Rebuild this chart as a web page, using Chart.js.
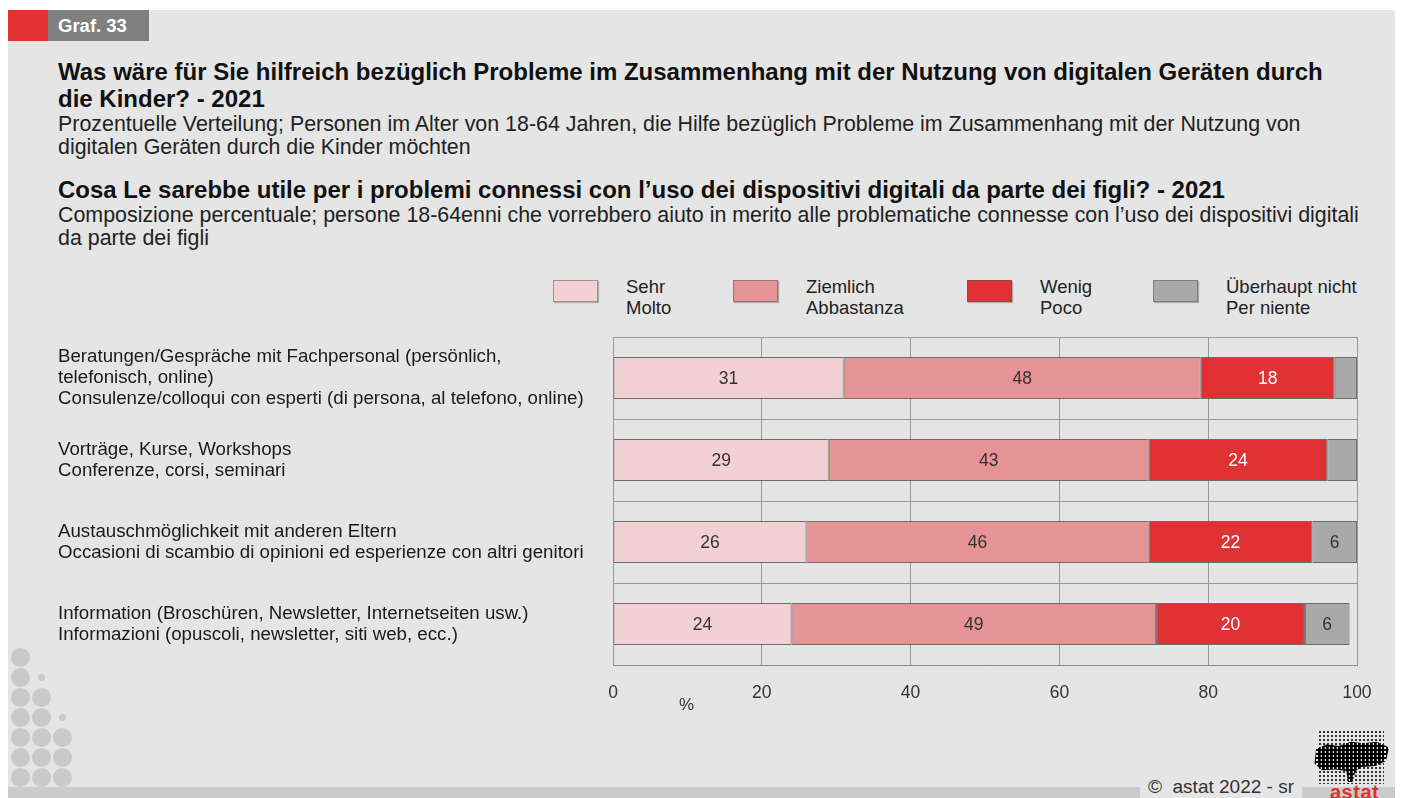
<!DOCTYPE html>
<html>
<head>
<meta charset="utf-8">
<script src="https://cdn.jsdelivr.net/npm/chart.js@4"></script>
<style>
  html, body { margin: 0; padding: 0; }
  body { width: 1402px; height: 798px; background: #fff; position: relative; overflow: hidden;
         font-family: "Liberation Sans", Arial, sans-serif; color: #1a1a1a; }
  #panel { position: absolute; left: 8px; top: 10px; width: 1387px; height: 788px; background: #e5e5e5; }
  #strip { position: absolute; left: 8px; top: 787px; width: 1387px; height: 11px; background: #cbcbcb; }
  #tagRed { position: absolute; left: 8px; top: 10px; width: 40px; height: 31px; background: #e03133; }
  #tag { position: absolute; left: 48px; top: 10px; width: 101px; height: 31px; background: #808080;
         color: #fff; font-weight: bold; font-size: 18.5px; line-height: 31px; padding-left: 10px; box-sizing: border-box; }
  .t { position: absolute; left: 58px; white-space: nowrap; }
  .h { font-weight: bold; font-size: 24px; line-height: 27px; color: #111; }
  .s { font-size: 21.4px; line-height: 23px; color: #222; }
  #legend { position: absolute; left: 553px; top: 279px; }
  .item { position: absolute; top: 0; display: flex; align-items: flex-start; }
  .box { width: 45px; height: 22px; margin-top: 1px; margin-right: 28px; box-sizing: border-box;
         border: 1px solid rgba(90,90,90,0.55); box-shadow: 1px 1px 1px rgba(0,0,0,0.25); }
  .lab { font-size: 18.5px; line-height: 21px; color: #222; white-space: nowrap; margin-top: -3px; }
  #chartBox { position: absolute; left: 0; top: 320px; width: 1402px; height: 400px; }
  #pct { position: absolute; left: 679px; top: 695px; font-size: 17px; color: #333; }
  .dot { position: absolute; border-radius: 50%; background: #c9c9c9; }
  #copy { position: absolute; left: 1140px; top: 775px; width: 162px; height: 23px; background: #e5e5e5;
          font-size: 19px; color: #333; text-align: center; line-height: 23px; }
  #logoDots { position: absolute; left: 1318px; top: 730px; width: 66px; height: 54px;
          background-image: radial-gradient(circle, #333 0.9px, transparent 1.3px); background-size: 4px 4px; }
  #logoMap { position: absolute; left: 1313px; top: 740px; width: 76px; height: 42px;
          background-image: radial-gradient(circle, #000 1.7px, transparent 2.1px); background-size: 4px 4px;
          clip-path: polygon(4% 22%, 18% 10%, 34% 14%, 50% 4%, 66% 8%, 84% 4%, 100% 18%, 96% 50%, 82% 62%,
                             64% 64%, 56% 74%, 52% 100%, 46% 100%, 44% 74%, 30% 70%, 12% 72%, 2% 56%); }
  #logoTxt { position: absolute; left: 1330px; top: 781px; font-weight: bold; font-size: 20px; color: #e03133; letter-spacing: 0.5px; }
</style>
</head>
<body>
<div id="panel"></div>
<div id="strip"></div>
<div id="tagRed"></div>
<div id="tag">Graf. 33</div>

<div class="t h" style="top:58px">Was wäre für Sie hilfreich bezüglich Probleme im Zusammenhang mit der Nutzung von digitalen Geräten durch</div>
<div class="t h" style="top:85px">die Kinder? - 2021</div>
<div class="t s" style="top:113px">Prozentuelle Verteilung; Personen im Alter von 18-64 Jahren, die Hilfe bezüglich Probleme im Zusammenhang mit der Nutzung von</div>
<div class="t s" style="top:136px">digitalen Geräten durch die Kinder möchten</div>
<div class="t h" style="top:176px">Cosa Le sarebbe utile per i problemi connessi con l’uso dei dispositivi digitali da parte dei figli? - 2021</div>
<div class="t s" style="top:204px">Composizione percentuale; persone 18-64enni che vorrebbero aiuto in merito alle problematiche connesse con l’uso dei dispositivi digitali</div>
<div class="t s" style="top:227px">da parte dei figli</div>

<div id="legend"></div>
<div id="chartBox"><canvas id="chart"></canvas></div>
<div id="pct">%</div>

<div id="dots"></div>
<div id="copy">©&nbsp; astat 2022 - sr</div>
<div id="logoDots"></div>
<div id="logoMap"></div>
<div id="logoTxt">astat</div>

<script>
// categories: German line(s) + Italian line
var categories = [
  ["Beratungen/Gespräche mit Fachpersonal (persönlich,", "telefonisch, online)", "Consulenze/colloqui con esperti (di persona, al telefono, online)"],
  ["Vorträge, Kurse, Workshops", "Conferenze, corsi, seminari"],
  ["Austauschmöglichkeit mit anderen Eltern", "Occasioni di scambio di opinioni ed esperienze con altri genitori"],
  ["Information (Broschüren, Newsletter, Internetseiten usw.)", "Informazioni (opuscoli, newsletter, siti web, ecc.)"]
];

var seriesDe = ["Sehr", "Ziemlich", "Wenig", "Überhaupt nicht"];
var seriesIt = ["Molto", "Abbastanza", "Poco", "Per niente"];

var sehr = [31, 29, 26, 24];
var ziemlich = [48, 43, 46, 49];
var wenig = [18, 24, 22, 20];
var ueberhauptNicht = [3, 4, 6, 6];

var xTicks = [0, 20, 40, 60, 80, 100];

var colors = ["#f2d0d3", "#e69395", "#e03234", "#a9a9a9"];
var labelColors = ["#333", "#333", "#fff", "#333"];
// left edge of each legend entry, relative to the legend block
var legendOffsets = [0, 180, 414, 600];

// left decoration: rows of grey dots
var dotRows = [
  [1, 0, 0], [1, 0.35, 0], [1, 1, 0], [1, 1, 0.35], [1, 1, 1], [1, 1, 1], [1, 1, 1]
];
var dotsEl = document.getElementById("dots");
dotRows.forEach(function (row, r) {
  row.forEach(function (size, c) {
    if (!size) return;
    var d = document.createElement("div");
    var rad = size === 1 ? 9.5 : 3.5;
    d.className = "dot";
    d.style.left = (20 + c * 21 - rad) + "px";
    d.style.top = (657 + r * 20 - rad) + "px";
    d.style.width = d.style.height = rad * 2 + "px";
    dotsEl.appendChild(d);
  });
});

var values = [sehr, ziemlich, wenig, ueberhauptNicht];

// prints the value in the middle of each segment
var segmentLabels = {
  id: "segmentLabels",
  afterDatasetsDraw: function (chart) {
    var ctx = chart.ctx;
    ctx.save();
    ctx.font = "17.5px 'Liberation Sans', Arial, sans-serif";
    ctx.textAlign = "center";
    ctx.textBaseline = "middle";
    chart.data.datasets.forEach(function (ds, i) {
      chart.getDatasetMeta(i).data.forEach(function (bar, j) {
        var v = ds.data[j];
        if (v < 5) return;
        var p = bar.getProps(["x", "y", "base"], true);
        ctx.fillStyle = labelColors[i];
        ctx.fillText(v, (p.x + p.base) / 2, p.y + 1);
      });
    });
    ctx.restore();
  }
};

var chart = new Chart(document.getElementById("chart"), {
  type: "bar",
  data: {
    labels: categories,
    datasets: values.map(function (arr, i) {
      return {
        label: seriesDe[i] + " / " + seriesIt[i],
        data: arr,
        backgroundColor: colors[i],
        borderColor: "rgba(70,70,70,0.75)",
        borderWidth: 1,
        borderSkipped: false,
        barPercentage: 1,
        categoryPercentage: 0.512
      };
    })
  },
  options: {
    indexAxis: "y",
    responsive: true,
    maintainAspectRatio: false,
    animation: false,
    layout: { padding: { left: 58, right: 45, top: 17, bottom: 0 } },
    plugins: { legend: { display: false }, tooltip: { enabled: false } },
    scales: {
      x: {
        stacked: true,
        min: 0,
        max: 100,
        afterBuildTicks: function (scale) {
          scale.ticks = xTicks.map(function (v) { return { value: v }; });
        },
        afterFit: function (scale) {
          scale.height = 55;
          scale.paddingLeft = scale.paddingRight = 0;
        },
        grid: { color: "#9a9a9a", lineWidth: 1, drawTicks: false },
        border: { color: "#8a8a8a" },
        ticks: { padding: 18, color: "#333", font: { size: 17.5, family: "'Liberation Sans', Arial, sans-serif" } }
      },
      y: {
        stacked: true,
        afterFit: function (scale) {
          scale.width = 613 - 58;
          scale.paddingTop = scale.paddingBottom = 0;
        },
        grid: { color: "#9a9a9a", lineWidth: 1, drawTicks: false },
        border: { display: false },
        ticks: {
          crossAlign: "far",
          color: "#1a1a1a",
          font: { size: 18.7, lineHeight: 1.12, family: "'Liberation Sans', Arial, sans-serif" }
        }
      }
    }
  },
  plugins: [segmentLabels]
});

// legend built from the chart's datasets
var legendEl = document.getElementById("legend");
chart.data.datasets.forEach(function (ds, i) {
  var item = document.createElement("div");
  item.className = "item";
  item.style.left = legendOffsets[i] + "px";
  var box = document.createElement("div");
  box.className = "box";
  box.style.background = ds.backgroundColor;
  var lab = document.createElement("div");
  lab.className = "lab";
  lab.innerHTML = seriesDe[i] + "<br>" + seriesIt[i];
  item.appendChild(box);
  item.appendChild(lab);
  legendEl.appendChild(item);
});
</script>
</body>
</html>
